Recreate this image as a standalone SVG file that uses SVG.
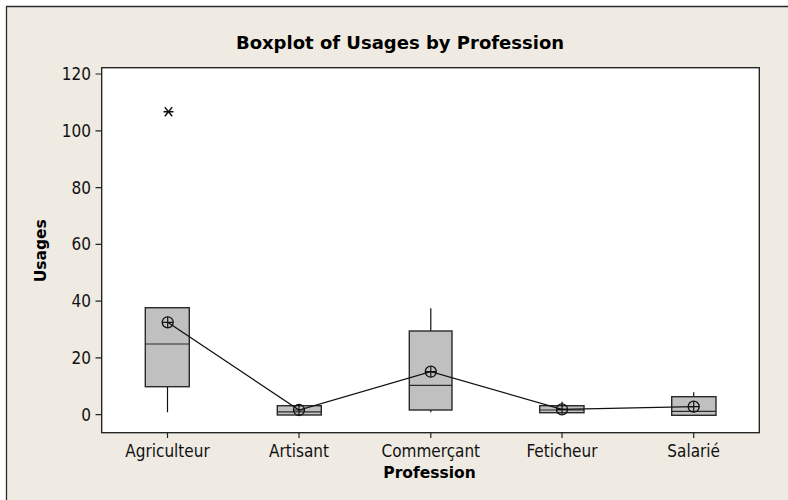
<svg xmlns="http://www.w3.org/2000/svg" width="788" height="500" viewBox="0 0 788 500">
  <style>
    .lbl { font-family: "DejaVu Sans Condensed", "DejaVu Sans", sans-serif; font-size: 17px; fill: #111; }
    .ttl { font-family: "DejaVu Sans", sans-serif; font-size: 18px; font-weight: bold; fill: #000; }
    .ax { font-family: "DejaVu Sans", sans-serif; font-size: 15.5px; font-weight: bold; fill: #000; }
    .tick { stroke: #222; stroke-width: 1.2; fill: none; }
    .box { fill: #c0c0c0; stroke: #2a2a2a; stroke-width: 1.4; }
    .med { stroke: #2a2a2a; stroke-width: 1.2; fill: none; }
    .whisk { stroke: #111; stroke-width: 1.2; fill: none; }
    .meanline { stroke: #111; stroke-width: 1.3; fill: none; }
  </style>
  <defs>
    <g id="meanSym">
      <circle cx="0" cy="0" r="5.5" fill="none" stroke="#111" stroke-width="1.3"/>
      <path d="M-5.5,0 H5.5 M0,-5.5 V5.5" stroke="#111" stroke-width="1.2" fill="none"/>
    </g>
  </defs>

  <!-- page background and frame -->
  <rect x="0" y="0" width="788" height="500" fill="#ffffff"/>
  <rect x="6.5" y="6.5" width="782" height="494" fill="#efebe2"/>
  <path d="M6.5,500 V6.5 H788" stroke="#2b2b2b" stroke-width="1.3" fill="none"/>

  <!-- title -->
  <text class="ttl" x="400" y="49" text-anchor="middle">Boxplot of Usages by Profession</text>

  <!-- plot area -->
  <rect x="101.7" y="67.7" width="657.6" height="365" fill="#ffffff" stroke="#1a1a1a" stroke-width="1.3"/>

  <!-- y axis ticks and labels -->
  <g id="y-axis">
    <path class="tick" d="M95.5,74 H101.7 M95.5,130.8 H101.7 M95.5,187.6 H101.7 M95.5,244.3 H101.7 M95.5,301.1 H101.7 M95.5,357.9 H101.7 M95.5,414.7 H101.7"/>
    <g class="lbl" text-anchor="end">
      <text x="91" y="80">120</text>
      <text x="91" y="136.8">100</text>
      <text x="91" y="193.6">80</text>
      <text x="91" y="250.3">60</text>
      <text x="91" y="307.1">40</text>
      <text x="91" y="363.9">20</text>
      <text x="91" y="420.7">0</text>
    </g>
    <text class="ax" transform="translate(45.5,250.8) rotate(-90)" text-anchor="middle">Usages</text>
  </g>

  <!-- x axis ticks and labels -->
  <g id="x-axis">
    <path class="tick" d="M167.5,432.7 V438 M299,432.7 V438 M430.8,432.7 V438 M562,432.7 V438 M693.7,432.7 V438"/>
    <g class="lbl" text-anchor="middle">
      <text x="167.5" y="456.5">Agriculteur</text>
      <text x="299" y="456.5">Artisant</text>
      <text x="430.8" y="456.5">Commerçant</text>
      <text x="562" y="456.5">Feticheur</text>
      <text x="693.7" y="456.5">Salarié</text>
    </g>
    <text class="ax" x="429.5" y="478" text-anchor="middle">Profession</text>
  </g>

  <!-- boxes -->
  <g id="box-agriculteur">
    <path class="whisk" d="M167.5,386.7 V412.3"/>
    <rect class="box" x="145.3" y="307.7" width="44" height="79"/>
    <path class="med" d="M145.3,344 H189.3"/>
    <path d="M163.5,111.7 H173.5 M164.8,107.2 L172.2,116.2 M164.8,116.2 L172.2,107.2" stroke="#111" stroke-width="1.4" fill="none"/>
  </g>
  <g id="box-artisant">
    <rect class="box" x="277.3" y="405.7" width="44" height="9.3"/>
    <path class="med" d="M277.3,411.8 H321.3"/>
  </g>
  <g id="box-commercant">
    <path class="whisk" d="M430.8,308.3 V331 M430.8,410 V412.3"/>
    <rect class="box" x="409.3" y="331" width="42.7" height="79"/>
    <path class="med" d="M409.3,385.3 H452"/>
  </g>
  <g id="box-feticheur">
    <path class="whisk" d="M562,401.7 V405.7"/>
    <rect class="box" x="539.7" y="405.7" width="44.3" height="7"/>
    <path class="med" d="M539.7,410 H584"/>
  </g>
  <g id="box-salarie">
    <path class="whisk" d="M693.7,392.3 V396.7"/>
    <rect class="box" x="671.7" y="396.7" width="44.3" height="18.6"/>
    <path class="med" d="M671.7,411.3 H716"/>
  </g>

  <!-- mean connect line -->
  <g id="connectors">
    <path class="meanline" d="M167.7,322.3 L299,410 L430.8,371.7 L562,409.3 L693.7,406.7"/>
  </g>

  <!-- mean symbols -->
  <g id="means">
    <use href="#meanSym" x="167.7" y="322.3"/>
    <use href="#meanSym" x="299" y="410"/>
    <use href="#meanSym" x="430.8" y="371.7"/>
    <use href="#meanSym" x="562" y="409.3"/>
    <use href="#meanSym" x="693.7" y="406.7"/>
  </g>
</svg>
